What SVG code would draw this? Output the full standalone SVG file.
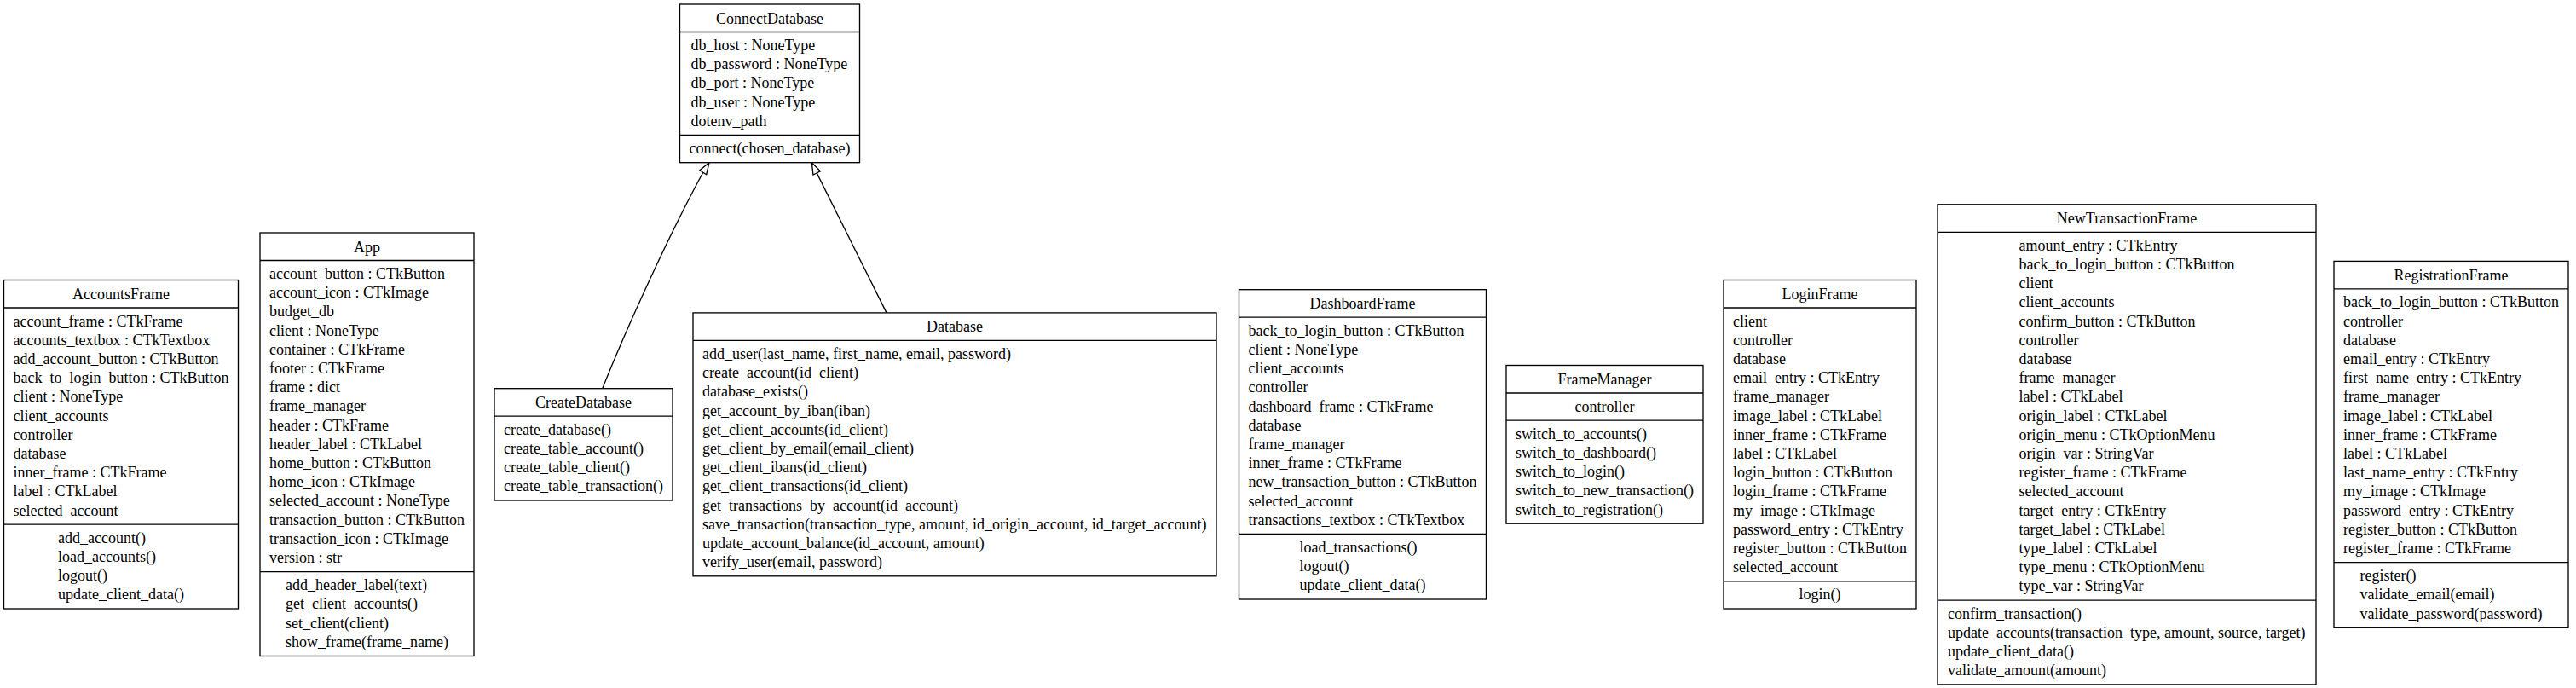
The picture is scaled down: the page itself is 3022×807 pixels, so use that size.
<svg xmlns="http://www.w3.org/2000/svg" width="3022" height="807" viewBox="0 0 3022 807">
<style>
rect.b{fill:#fff;stroke:#000;stroke-width:1.33}
line.s{stroke:#000;stroke-width:1.33}
text{font-family:"Liberation Serif","Times New Roman",serif;font-size:18px;fill:#000}
text.c{text-anchor:middle}
.e{fill:none;stroke:#000;stroke-width:1.33}
.h{fill:#fff;stroke:#000;stroke-width:1.33}
</style>
<rect width="3022" height="807" fill="#fff"/>
<g id="connectors">
<path class="e" d="M706.7,455.7 C735,385 785,275 824.8,202.2"/>
<polygon class="h" points="832,190.7 828.7,204.7 820.9,199.7"/>
<path class="e" d="M1040,366.9 L958.2,202.9"/>
<polygon class="h" points="952.3,190.7 962.4,200.8 954,205"/>
</g>
<g id="ConnectDatabase">
<rect class="b" x="797.5" y="5" width="211" height="185.7"/>
<line class="s" x1="797.5" y1="37.5" x2="1008.5" y2="37.5"/>
<line class="s" x1="797.5" y1="158.5" x2="1008.5" y2="158.5"/>
<text class="c" x="903" y="27.5">ConnectDatabase</text>
<text x="810.5" y="59"><tspan x="810.5">db_host : NoneType</tspan><tspan x="810.5" dy="22.2">db_password : NoneType</tspan><tspan x="810.5" dy="22.2">db_port : NoneType</tspan><tspan x="810.5" dy="22.2">db_user : NoneType</tspan><tspan x="810.5" dy="22.2">dotenv_path</tspan></text>
<text x="808.5" y="180">connect(chosen_database)</text>
</g>
<g id="AccountsFrame">
<rect class="b" x="4.5" y="328.5" width="275" height="385.5"/>
<line class="s" x1="4.5" y1="361" x2="279.5" y2="361"/>
<line class="s" x1="4.5" y1="615.2" x2="279.5" y2="615.2"/>
<text class="c" x="142" y="351">AccountsFrame</text>
<text x="15.5" y="382.5"><tspan x="15.5">account_frame : CTkFrame</tspan><tspan x="15.5" dy="22.2">accounts_textbox : CTkTextbox</tspan><tspan x="15.5" dy="22.2">add_account_button : CTkButton</tspan><tspan x="15.5" dy="22.2">back_to_login_button : CTkButton</tspan><tspan x="15.5" dy="22.2">client : NoneType</tspan><tspan x="15.5" dy="22.2">client_accounts</tspan><tspan x="15.5" dy="22.2">controller</tspan><tspan x="15.5" dy="22.2">database</tspan><tspan x="15.5" dy="22.2">inner_frame : CTkFrame</tspan><tspan x="15.5" dy="22.2">label : CTkLabel</tspan><tspan x="15.5" dy="22.2">selected_account</tspan></text>
<text x="68" y="636.7"><tspan x="68">add_account()</tspan><tspan x="68" dy="22.2">load_accounts()</tspan><tspan x="68" dy="22.2">logout()</tspan><tspan x="68" dy="22.2">update_client_data()</tspan></text>
</g>
<g id="App">
<rect class="b" x="305" y="273" width="251" height="496.5"/>
<line class="s" x1="305" y1="305.5" x2="556" y2="305.5"/>
<line class="s" x1="305" y1="670.7" x2="556" y2="670.7"/>
<text class="c" x="430.5" y="295.5">App</text>
<text x="316" y="327"><tspan x="316">account_button : CTkButton</tspan><tspan x="316" dy="22.2">account_icon : CTkImage</tspan><tspan x="316" dy="22.2">budget_db</tspan><tspan x="316" dy="22.2">client : NoneType</tspan><tspan x="316" dy="22.2">container : CTkFrame</tspan><tspan x="316" dy="22.2">footer : CTkFrame</tspan><tspan x="316" dy="22.2">frame : dict</tspan><tspan x="316" dy="22.2">frame_manager</tspan><tspan x="316" dy="22.2">header : CTkFrame</tspan><tspan x="316" dy="22.2">header_label : CTkLabel</tspan><tspan x="316" dy="22.2">home_button : CTkButton</tspan><tspan x="316" dy="22.2">home_icon : CTkImage</tspan><tspan x="316" dy="22.2">selected_account : NoneType</tspan><tspan x="316" dy="22.2">transaction_button : CTkButton</tspan><tspan x="316" dy="22.2">transaction_icon : CTkImage</tspan><tspan x="316" dy="22.2">version : str</tspan></text>
<text x="335" y="692.2"><tspan x="335">add_header_label(text)</tspan><tspan x="335" dy="22.2">get_client_accounts()</tspan><tspan x="335" dy="22.2">set_client(client)</tspan><tspan x="335" dy="22.2">show_frame(frame_name)</tspan></text>
</g>
<g id="CreateDatabase">
<rect class="b" x="580" y="455.7" width="209" height="131.3"/>
<line class="s" x1="580" y1="488.2" x2="789" y2="488.2"/>
<text class="c" x="684.5" y="478.2">CreateDatabase</text>
<text x="591" y="509.7"><tspan x="591">create_database()</tspan><tspan x="591" dy="22.2">create_table_account()</tspan><tspan x="591" dy="22.2">create_table_client()</tspan><tspan x="591" dy="22.2">create_table_transaction()</tspan></text>
</g>
<g id="Database">
<rect class="b" x="813" y="366.9" width="614" height="308.9"/>
<line class="s" x1="813" y1="399.4" x2="1427" y2="399.4"/>
<text class="c" x="1120" y="389.4">Database</text>
<text x="824" y="420.9"><tspan x="824">add_user(last_name, first_name, email, password)</tspan><tspan x="824" dy="22.2">create_account(id_client)</tspan><tspan x="824" dy="22.2">database_exists()</tspan><tspan x="824" dy="22.2">get_account_by_iban(iban)</tspan><tspan x="824" dy="22.2">get_client_accounts(id_client)</tspan><tspan x="824" dy="22.2">get_client_by_email(email_client)</tspan><tspan x="824" dy="22.2">get_client_ibans(id_client)</tspan><tspan x="824" dy="22.2">get_client_transactions(id_client)</tspan><tspan x="824" dy="22.2">get_transactions_by_account(id_account)</tspan><tspan x="824" dy="22.2">save_transaction(transaction_type, amount, id_origin_account, id_target_account)</tspan><tspan x="824" dy="22.2">update_account_balance(id_account, amount)</tspan><tspan x="824" dy="22.2">verify_user(email, password)</tspan></text>
</g>
<g id="DashboardFrame">
<rect class="b" x="1453.5" y="339.7" width="290" height="363.3"/>
<line class="s" x1="1453.5" y1="372.2" x2="1743.5" y2="372.2"/>
<line class="s" x1="1453.5" y1="626.4" x2="1743.5" y2="626.4"/>
<text class="c" x="1598.5" y="362.2">DashboardFrame</text>
<text x="1464.5" y="393.7"><tspan x="1464.5">back_to_login_button : CTkButton</tspan><tspan x="1464.5" dy="22.2">client : NoneType</tspan><tspan x="1464.5" dy="22.2">client_accounts</tspan><tspan x="1464.5" dy="22.2">controller</tspan><tspan x="1464.5" dy="22.2">dashboard_frame : CTkFrame</tspan><tspan x="1464.5" dy="22.2">database</tspan><tspan x="1464.5" dy="22.2">frame_manager</tspan><tspan x="1464.5" dy="22.2">inner_frame : CTkFrame</tspan><tspan x="1464.5" dy="22.2">new_transaction_button : CTkButton</tspan><tspan x="1464.5" dy="22.2">selected_account</tspan><tspan x="1464.5" dy="22.2">transactions_textbox : CTkTextbox</tspan></text>
<text x="1524.5" y="647.9"><tspan x="1524.5">load_transactions()</tspan><tspan x="1524.5" dy="22.2">logout()</tspan><tspan x="1524.5" dy="22.2">update_client_data()</tspan></text>
</g>
<g id="FrameManager">
<rect class="b" x="1767" y="428.5" width="231" height="185.7"/>
<line class="s" x1="1767" y1="461" x2="1998" y2="461"/>
<line class="s" x1="1767" y1="493.2" x2="1998" y2="493.2"/>
<text class="c" x="1882.5" y="451">FrameManager</text>
<text class="c" x="1882.5" y="482.5">controller</text>
<text x="1778" y="514.7"><tspan x="1778">switch_to_accounts()</tspan><tspan x="1778" dy="22.2">switch_to_dashboard()</tspan><tspan x="1778" dy="22.2">switch_to_login()</tspan><tspan x="1778" dy="22.2">switch_to_new_transaction()</tspan><tspan x="1778" dy="22.2">switch_to_registration()</tspan></text>
</g>
<g id="LoginFrame">
<rect class="b" x="2022" y="328.5" width="226" height="385.5"/>
<line class="s" x1="2022" y1="361" x2="2248" y2="361"/>
<line class="s" x1="2022" y1="681.8" x2="2248" y2="681.8"/>
<text class="c" x="2135" y="351">LoginFrame</text>
<text x="2033" y="382.5"><tspan x="2033">client</tspan><tspan x="2033" dy="22.2">controller</tspan><tspan x="2033" dy="22.2">database</tspan><tspan x="2033" dy="22.2">email_entry : CTkEntry</tspan><tspan x="2033" dy="22.2">frame_manager</tspan><tspan x="2033" dy="22.2">image_label : CTkLabel</tspan><tspan x="2033" dy="22.2">inner_frame : CTkFrame</tspan><tspan x="2033" dy="22.2">label : CTkLabel</tspan><tspan x="2033" dy="22.2">login_button : CTkButton</tspan><tspan x="2033" dy="22.2">login_frame : CTkFrame</tspan><tspan x="2033" dy="22.2">my_image : CTkImage</tspan><tspan x="2033" dy="22.2">password_entry : CTkEntry</tspan><tspan x="2033" dy="22.2">register_button : CTkButton</tspan><tspan x="2033" dy="22.2">selected_account</tspan></text>
<text class="c" x="2135" y="703.3">login()</text>
</g>
<g id="NewTransactionFrame">
<rect class="b" x="2273" y="239.8" width="444" height="563.1"/>
<line class="s" x1="2273" y1="272.3" x2="2717" y2="272.3"/>
<line class="s" x1="2273" y1="704.1" x2="2717" y2="704.1"/>
<text class="c" x="2495" y="262.3">NewTransactionFrame</text>
<text x="2368.5" y="293.8"><tspan x="2368.5">amount_entry : CTkEntry</tspan><tspan x="2368.5" dy="22.2">back_to_login_button : CTkButton</tspan><tspan x="2368.5" dy="22.2">client</tspan><tspan x="2368.5" dy="22.2">client_accounts</tspan><tspan x="2368.5" dy="22.2">confirm_button : CTkButton</tspan><tspan x="2368.5" dy="22.2">controller</tspan><tspan x="2368.5" dy="22.2">database</tspan><tspan x="2368.5" dy="22.2">frame_manager</tspan><tspan x="2368.5" dy="22.2">label : CTkLabel</tspan><tspan x="2368.5" dy="22.2">origin_label : CTkLabel</tspan><tspan x="2368.5" dy="22.2">origin_menu : CTkOptionMenu</tspan><tspan x="2368.5" dy="22.2">origin_var : StringVar</tspan><tspan x="2368.5" dy="22.2">register_frame : CTkFrame</tspan><tspan x="2368.5" dy="22.2">selected_account</tspan><tspan x="2368.5" dy="22.2">target_entry : CTkEntry</tspan><tspan x="2368.5" dy="22.2">target_label : CTkLabel</tspan><tspan x="2368.5" dy="22.2">type_label : CTkLabel</tspan><tspan x="2368.5" dy="22.2">type_menu : CTkOptionMenu</tspan><tspan x="2368.5" dy="22.2">type_var : StringVar</tspan></text>
<text x="2285" y="725.6"><tspan x="2285">confirm_transaction()</tspan><tspan x="2285" dy="22.2">update_accounts(transaction_type, amount, source, target)</tspan><tspan x="2285" dy="22.2">update_client_data()</tspan><tspan x="2285" dy="22.2">validate_amount(amount)</tspan></text>
</g>
<g id="RegistrationFrame">
<rect class="b" x="2738" y="306.4" width="275" height="429.9"/>
<line class="s" x1="2738" y1="338.9" x2="3013" y2="338.9"/>
<line class="s" x1="2738" y1="659.7" x2="3013" y2="659.7"/>
<text class="c" x="2875.5" y="328.9">RegistrationFrame</text>
<text x="2749" y="360.4"><tspan x="2749">back_to_login_button : CTkButton</tspan><tspan x="2749" dy="22.2">controller</tspan><tspan x="2749" dy="22.2">database</tspan><tspan x="2749" dy="22.2">email_entry : CTkEntry</tspan><tspan x="2749" dy="22.2">first_name_entry : CTkEntry</tspan><tspan x="2749" dy="22.2">frame_manager</tspan><tspan x="2749" dy="22.2">image_label : CTkLabel</tspan><tspan x="2749" dy="22.2">inner_frame : CTkFrame</tspan><tspan x="2749" dy="22.2">label : CTkLabel</tspan><tspan x="2749" dy="22.2">last_name_entry : CTkEntry</tspan><tspan x="2749" dy="22.2">my_image : CTkImage</tspan><tspan x="2749" dy="22.2">password_entry : CTkEntry</tspan><tspan x="2749" dy="22.2">register_button : CTkButton</tspan><tspan x="2749" dy="22.2">register_frame : CTkFrame</tspan></text>
<text x="2768.5" y="681.2"><tspan x="2768.5">register()</tspan><tspan x="2768.5" dy="22.2">validate_email(email)</tspan><tspan x="2768.5" dy="22.2">validate_password(password)</tspan></text>
</g>
</svg>
